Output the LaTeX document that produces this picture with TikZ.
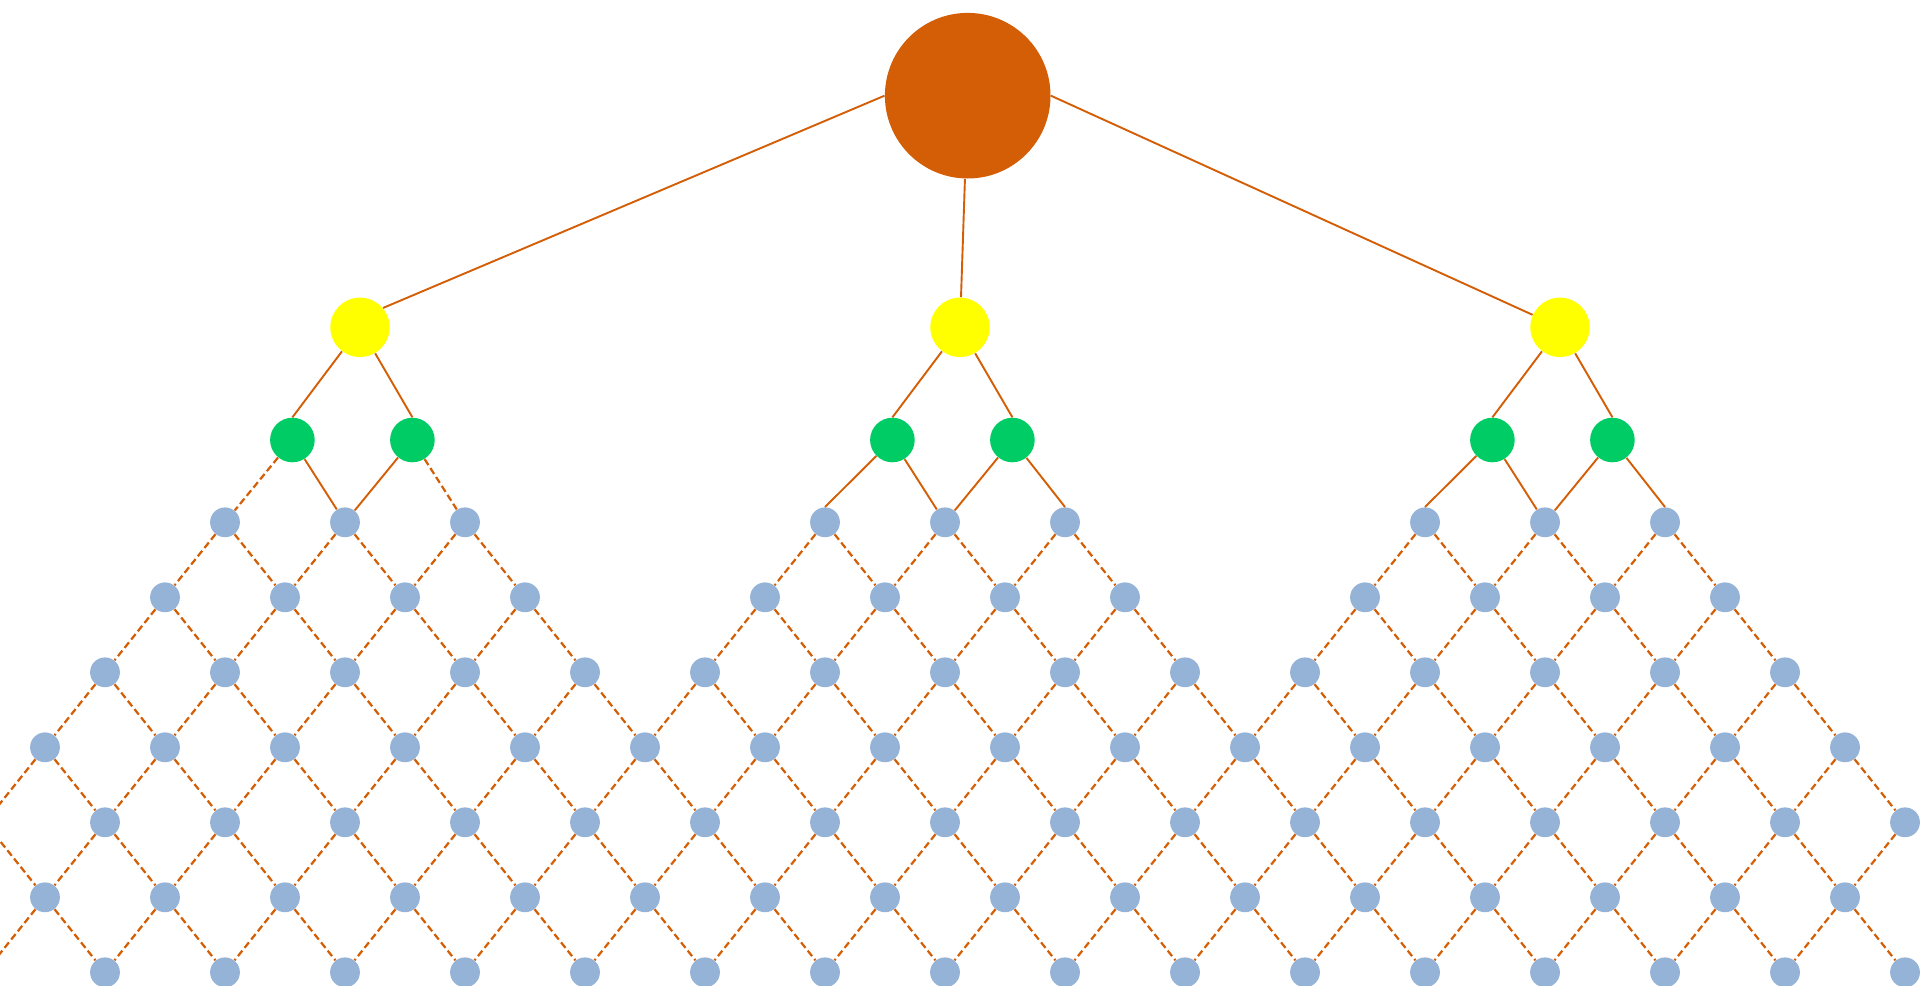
\documentclass[tikz,border=0pt]{standalone}
\definecolor{edgeorange}{RGB}{211,94,6}
\definecolor{latblue}{RGB}{149,179,215}
\definecolor{pairgreen}{RGB}{0,204,102}
\definecolor{hubyellow}{RGB}{255,255,0}

\begin{document}
\begin{tikzpicture}[x=.5pt,y=-.5pt,
  top/.style={circle,inner sep=0pt,minimum size=82.8pt,fill=edgeorange},
  hub/.style={circle,inner sep=0pt,minimum size=29.7pt,fill=hubyellow},
  grn/.style={circle,inner sep=0pt,minimum size=22.3pt,fill=pairgreen},
  lat/.style={circle,inner sep=0pt,minimum size=14.9pt,fill=latblue},
  link/.style={edgeorange,line width=.95pt},
  dlink/.style={edgeorange,line width=1.1pt,dash pattern=on 3.5pt off 1.8pt}]
\useasboundingbox (0,0) rectangle (1920,985);
\clip (0,0) rectangle (1920,985);
% top of the tree
\node[top] (root) at (967.7,95.7) {};
\foreach \j/\x in {1/360,2/960,3/1560}{
  \node[hub] (hub\j) at (\x,327.3) {};
  \node[grn] (gl\j) at (\x-67.6,440) {};
  \node[grn] (gr\j) at (\x+52.4,440) {};
  \draw[link] (hub\j) -- (gl\j.north);
  \draw[link] (hub\j) -- (gr\j.north);
}
\draw[link] (root.west) -- (hub1.40);
\draw[link] (root) -- (hub2);
\draw[link] (root.east) -- (hub3);
% lattice nodes, x=45+60k, y=447.3+75r
\foreach \j in {0,10,20}{
  \foreach \d in {3,5,7}{\pgfmathtruncatemacro\k{\d+\j}\node[lat] (b1-\k) at (45+60*\k,522.3) {};}
  \foreach \d in {2,4,6,8}{\pgfmathtruncatemacro\k{\d+\j}\node[lat] (b2-\k) at (45+60*\k,597.3) {};}
}
\foreach \k in {1,3,...,29}{\node[lat] (b3-\k) at (45+60*\k,672.3) {};}
\foreach \k in {0,2,...,30}{\node[lat] (b4-\k) at (45+60*\k,747.3) {};
  \node[lat] (b6-\k) at (45+60*\k,897.3) {};}
\foreach \k in {1,3,...,31}{\node[lat] (b5-\k) at (45+60*\k,822.3) {};
  \node[lat] (b7-\k) at (45+60*\k,972.3) {};}
\coordinate (v5) at (-15,822.3);
\coordinate (v7) at (-15,972.3);
% green to first row
\draw[dlink] (gl1) -- (b1-3);
\draw[link] (gl1) -- (b1-5);
\draw[link] (gr1) -- (b1-5);
\draw[dlink] (gr1) -- (b1-7);
\foreach \j/\k in {2/13,3/23}{
  \pgfmathtruncatemacro\km{\k+2}\pgfmathtruncatemacro\kr{\k+4}
  \draw[link] (gl\j) -- (b1-\k.north);
  \draw[link] (gl\j) -- (b1-\km);
  \draw[link] (gr\j) -- (b1-\km);
  \draw[link] (gr\j) -- (b1-\kr.north);
}
% dashed lattice
\foreach \j in {0,10,20}{
  \foreach \d in {3,5,7}{\pgfmathtruncatemacro\k{\d+\j}\pgfmathtruncatemacro\kl{\k-1}\pgfmathtruncatemacro\kr{\k+1}
    \draw[dlink] (b1-\k) -- (b2-\kl); \draw[dlink] (b1-\k) -- (b2-\kr);}
  \foreach \d in {2,4,6,8}{\pgfmathtruncatemacro\k{\d+\j}\pgfmathtruncatemacro\kl{\k-1}\pgfmathtruncatemacro\kr{\k+1}
    \draw[dlink] (b2-\k) -- (b3-\kl); \draw[dlink] (b2-\k) -- (b3-\kr);}
}
\foreach \k in {1,3,...,29}{\pgfmathtruncatemacro\kl{\k-1}\pgfmathtruncatemacro\kr{\k+1}
  \draw[dlink] (b3-\k) -- (b4-\kl); \draw[dlink] (b3-\k) -- (b4-\kr);}
\foreach \k in {0,2,...,30}{\pgfmathtruncatemacro\kr{\k+1}
  \draw[dlink] (b4-\k) -- (b5-\kr); \draw[dlink] (b6-\k) -- (b7-\kr);}
\foreach \k in {2,4,...,30}{\pgfmathtruncatemacro\kl{\k-1}
  \draw[dlink] (b4-\k) -- (b5-\kl); \draw[dlink] (b6-\k) -- (b7-\kl);}
\foreach \k in {1,3,...,31}{\pgfmathtruncatemacro\kl{\k-1}\draw[dlink] (b5-\k) -- (b6-\kl);}
\foreach \k in {1,3,...,29}{\pgfmathtruncatemacro\kr{\k+1}\draw[dlink] (b5-\k) -- (b6-\kr);}
\draw[dlink] (b4-0) -- (v5) -- (b6-0) -- (v7);
\end{tikzpicture}
\end{document}
